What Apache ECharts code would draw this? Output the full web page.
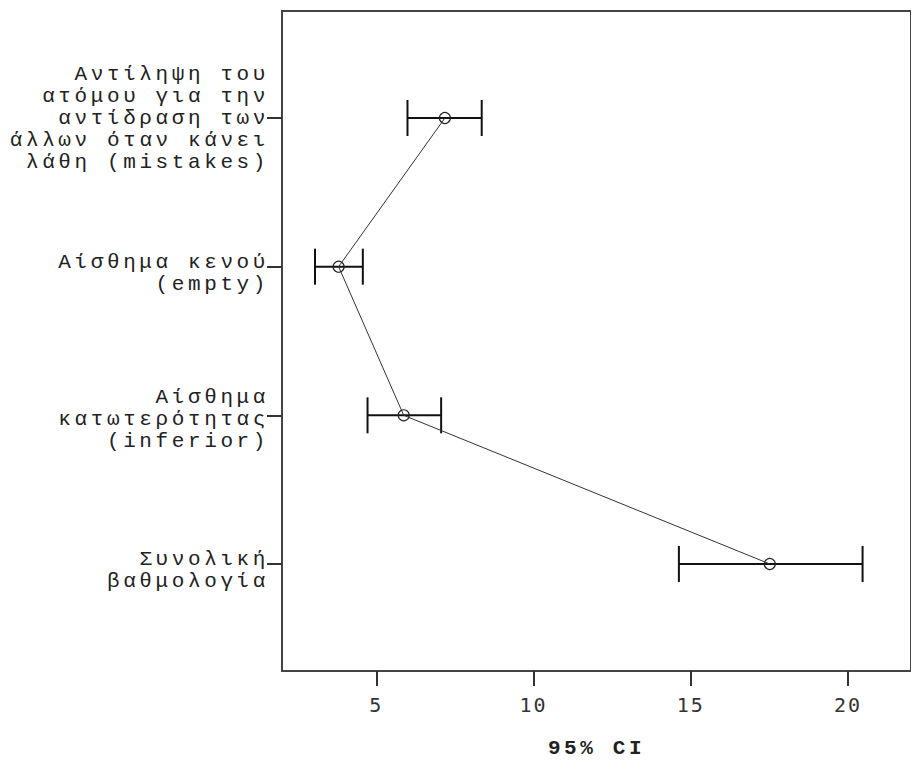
<!DOCTYPE html>
<html>
<head>
<meta charset="utf-8">
<script src="https://cdn.jsdelivr.net/npm/echarts@6/dist/echarts.min.js"></script>
<style>
  html, body { margin: 0; padding: 0; background: #fff; }
  #chart { width: 911px; height: 764px; }
  /* typewriter-style labels are set with wide tracking */
  #chart text[style*="Liberation Mono"] { letter-spacing: 3.6px; }
  #chart text[style*="DejaVu Sans Mono"] { letter-spacing: 2px; }
</style>
</head>
<body>
<div id="chart"></div>
<script>
// Scale items, top to bottom
const categories = [
  'Αντίληψη του\nατόμου για την\nαντίδραση των\nάλλων όταν κάνει\nλάθη (mistakes)',
  'Αίσθημα κενού\n(empty)',
  'Αίσθημα\nκατωτερότητας\n(inferior)',
  'Συνολική\nβαθμολογία'
];
// Mean and 95% confidence interval for each item
const means   = [7.18, 3.80, 5.87, 17.51];
const ciLower = [5.99, 3.05, 4.72, 14.62];
const ciUpper = [8.35, 4.57, 7.06, 20.46];
// Horizontal axis
const xTicks = [5, 10, 15, 20];
const xTitle = '95% CI';

const rows = categories.map((_, i) => i + 1);

const labelFont = 'Liberation Mono';
const baseLabel = { fontFamily: labelFont, fontSize: 21, lineHeight: 22, color: '#222', align: 'right' };
// short labels sit a little below their tick
const labelRich = {
  l1: Object.assign({}, baseLabel),
  l2: Object.assign({}, baseLabel, { padding: [14, 0, 0, 0] }),
  l3: Object.assign({}, baseLabel, { padding: [8, 0, 0, 0] })
};

function formatCategory(v) {
  const name = categories[Math.round(v) - 1];
  if (!name) return '';
  const lines = name.split('\n');
  const key = lines.length === 2 ? 'l2' : lines.length === 3 ? 'l3' : 'l1';
  return lines.map(l => '{' + key + '|' + l + '}').join('\n');
}

const chart = echarts.init(document.getElementById('chart'), null, { renderer: 'svg' });

chart.setOption({
  animation: false,
  backgroundColor: '#fff',
  grid: {
    left: 282, top: 11, width: 638, height: 665,
    show: true, borderColor: '#444', borderWidth: 2, backgroundColor: 'transparent'
  },
  xAxis: {
    type: 'value',
    min: 2, max: 22,
    axisLine: { show: false },
    splitLine: { show: false },
    axisTick: { show: true, customValues: xTicks, length: 15, lineStyle: { color: '#333', width: 2 } },
    axisLabel: {
      customValues: xTicks, margin: 24,
      fontFamily: 'DejaVu Sans Mono', fontSize: 20, color: '#333'
    },
    name: xTitle,
    nameLocation: 'middle',
    nameGap: 67,
    nameTextStyle: { fontFamily: labelFont, fontWeight: 'bold', fontSize: 21, color: '#222' }
  },
  yAxis: {
    type: 'value',
    inverse: true,
    min: 0.28, max: 4.72,
    axisLine: { show: false },
    splitLine: { show: false },
    axisTick: { show: true, customValues: rows, length: 15, lineStyle: { color: '#333', width: 2 } },
    axisLabel: {
      customValues: rows, margin: 13,
      formatter: formatCategory,
      rich: labelRich,
      fontFamily: labelFont, fontSize: 21, lineHeight: 22, color: '#222'
    }
  },
  series: [
    {
      // confidence interval whiskers
      type: 'custom',
      data: rows.map((r, i) => [ciLower[i], ciUpper[i], r]),
      encode: { x: [0, 1], y: 2 },
      renderItem: function (params, api) {
        const lo = api.coord([api.value(0), api.value(2)]);
        const hi = api.coord([api.value(1), api.value(2)]);
        const cap = 18;
        const st = { stroke: '#111', lineWidth: 2 };
        return {
          type: 'group',
          children: [
            { type: 'line', shape: { x1: lo[0], y1: lo[1], x2: hi[0], y2: hi[1] }, style: st },
            { type: 'line', shape: { x1: lo[0], y1: lo[1] - cap, x2: lo[0], y2: lo[1] + cap }, style: st },
            { type: 'line', shape: { x1: hi[0], y1: hi[1] - cap, x2: hi[0], y2: hi[1] + cap }, style: st }
          ]
        };
      },
      z: 2
    },
    {
      // means joined in item order
      type: 'line',
      data: rows.map((r, i) => [means[i], r]),
      symbol: 'circle',
      symbolSize: 11,
      itemStyle: { color: 'rgba(0,0,0,0)', borderColor: '#222', borderWidth: 1.2 },
      lineStyle: { color: '#333', width: 1 },
      z: 3
    }
  ]
});
</script>
</body>
</html>
